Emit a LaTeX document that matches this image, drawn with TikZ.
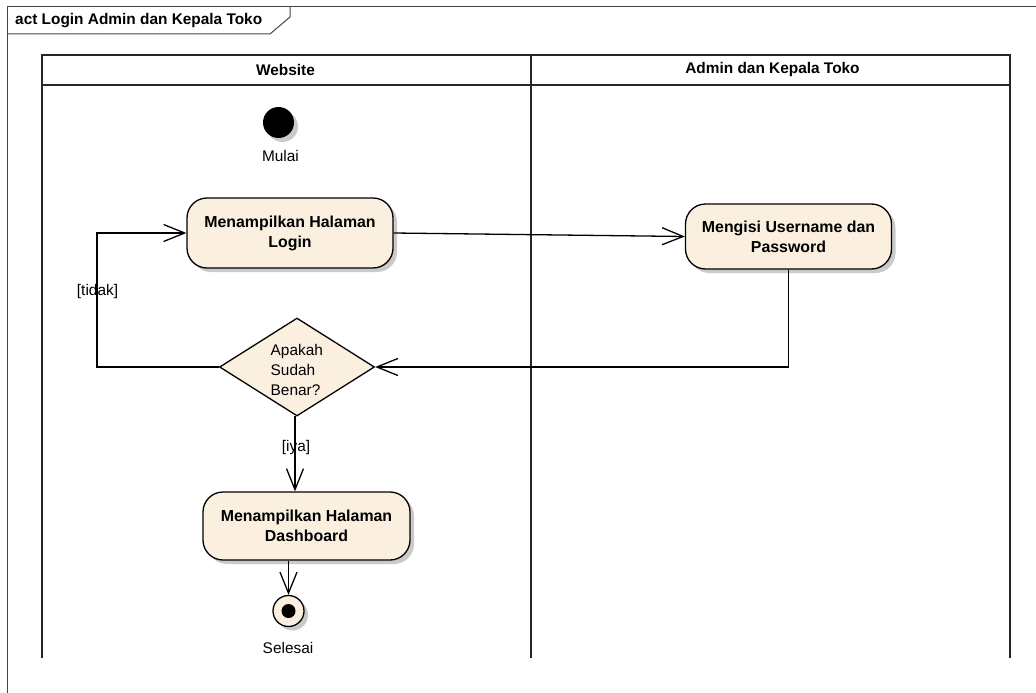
\documentclass[tikz,border=0pt]{standalone}
\usepackage{fontspec}
\setmainfont{Liberation Sans}
\usetikzlibrary{arrows.meta,shapes.geometric,shadows}
\definecolor{actfill}{RGB}{251,240,224}
\definecolor{framegray}{RGB}{70,70,70}
\begin{document}
\begin{tikzpicture}[x=1pt,y=-1pt,
  shade/.style={drop shadow={shadow xshift=4pt,shadow yshift=-4pt,fill=black!35,opacity=0.6}},
  act/.style={rectangle,rounded corners=20pt,draw,line width=1.3pt,fill=actfill,
    minimum width=206pt,minimum height=70pt,align=center,inner sep=2pt,
    font=\fontsize{15.9}{20}\selectfont\bfseries,shade},
  decision/.style={diamond,draw,line width=1.3pt,fill=actfill,inner sep=0pt,
    minimum width=155pt,minimum height=98pt},
  reg/.style={font=\fontsize{15.4}{20}\selectfont},
  hdr/.style={font=\fontsize{15.4}{18}\selectfont\bfseries},
  flow/.style={line width=1.3pt,-{Straight Barb[length=21pt,width=17pt,line width=1.3pt]}},
  lane/.style={line width=2pt,black!85}]
\useasboundingbox (0,0) rectangle (1036,693);

% diagram frame with its name tab
\draw[framegray,line width=1pt] (7.5,693) -- (7.5,6.5) -- (1036,6.5);
\draw[framegray,line width=1pt] (7.5,34) -- (270,34) -- (290,17) -- (290,6.5);
\node[hdr,anchor=west,inner sep=0pt] (title) at (15,20.5) {act Login Admin dan Kepala Toko};

% swimlanes
\draw[lane] (42,658) -- (42,55) -- (1010,55) -- (1010,658);
\draw[lane] (42,85) -- (1010,85);
\draw[lane] (531,55) -- (531,658);
\node[hdr] (laneweb) at (285.5,70) {Website};
\node[hdr] (laneadm) at (772.5,70) {Admin dan Kepala Toko};

% activity nodes
\node[circle,fill=black,minimum size=31pt,inner sep=0pt,shade] (start) at (278.5,122.5) {};
\node[reg] (startlbl) at (280.5,156) {Mulai};
\node[act] (login) at (290,233) {Menampilkan Halaman\\Login};
\node[act,minimum height=65pt] (isi) at (788.5,236.5) {Mengisi Username dan\\Password};
\node[decision] (q) at (297,367) {};
\node[reg,anchor=west,align=left,inner sep=0pt] (qtext) at (270.5,370) {Apakah\\Sudah\\Benar?};
\node[act,minimum width=207pt,minimum height=68pt] (dash) at (306.5,526) {Menampilkan Halaman\\Dashboard};
\node[circle,draw,line width=1.3pt,fill=actfill,minimum size=31pt,inner sep=0pt,shade] (final) at (288.5,611) {};
\node[circle,fill=black,minimum size=14pt,inner sep=0pt] (finaldot) at (final.center) {};
\node[reg] (finallbl) at (288,648) {Selesai};

% control flows
\coordinate (loopcorner) at (97,367);
\draw[flow] (login.east) -- (isi.west);
\draw[flow] (isi.south) -- (isi.south |- q.east) -- (q.east);
\draw[flow] (q.west) -- (loopcorner) -- (loopcorner |- login.west) -- (login.west);
\node[reg,inner sep=0pt] (tidak) at (97.5,292) {[tidak]};
\coordinate (qbottom) at (295,416);
\draw[flow] (qbottom) -- (qbottom |- dash.north);
\node[reg,inner sep=0pt] (iya) at (296,448) {[iya]};
\draw[flow] (final |- dash.south) -- (final.north);
\end{tikzpicture}
\end{document}
